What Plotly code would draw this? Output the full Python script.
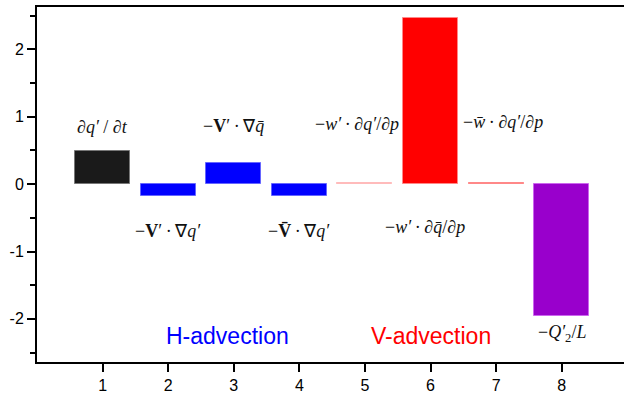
import plotly.graph_objects as go

# ---- data ----
categories = [1, 2, 3, 4, 5, 6, 7, 8]
values = [0.49, -0.18, 0.32, -0.17, 0.015, 2.47, 0.015, -1.96]
y_ticks = [-2, -1, 0, 1, 2]
y_tick_text = ["-2", "-1", "0", "1", "2"]
bar_colors = ["#1a1a1a", "#0000ff", "#0000ff", "#0000ff", "#ff9999", "#ff0000", "#ff0000", "#9900cc"]
edge_colors = ["#777777", "#6666ff", "#6666ff", "#6666ff", "#ffbbbb", "#ff8888", "#ff8888", "#cc66ee"]
ts = "\u2009"
term_labels = [
    "<i>∂q′</i> / <i>∂t</i>",
    f"−<b>V</b>′{ts}·{ts}∇<i>q′</i>",
    f"−<b>V</b>′{ts}·{ts}∇<i>q̄</i>",
    f"−<b>V̄</b>{ts}·{ts}∇<i>q′</i>",
    f"−<i>w′</i>{ts}·{ts}<i>∂q′</i>/<i>∂p</i>",
    f"−<i>w′</i>{ts}·{ts}<i>∂q̄</i>/<i>∂p</i>",
    f"−<i>w̄</i>{ts}·{ts}<i>∂q′</i>/<i>∂p</i>",
    "−<i>Q′</i><sub>2</sub>/<i>L</i>",
]
group_labels = ["H-advection", "V-advection"]
group_colors = ["#0000ff", "#ff0000"]

# label placement (layout only)
label_x = [1, 2, 3, 4, 4.88, 5.92, 7.1, 8]
label_y = [0.85, -0.69, 0.87, -0.69, 0.9, -0.63, 0.92, -2.21]
group_x = [2.9, 6.0]
group_y = -2.26

fig = go.Figure()
fig.add_trace(go.Bar(
    x=categories, y=values, width=0.84,
    marker=dict(color=bar_colors, line=dict(color=edge_colors, width=1)),
    showlegend=False, hoverinfo="skip",
))

for lx, ly, t in zip(label_x, label_y, term_labels):
    fig.add_annotation(x=lx, y=ly, text=t, showarrow=False,
                       font=dict(family="Liberation Serif", size=18, color="#111111"))
for gx, t, c in zip(group_x, group_labels, group_colors):
    fig.add_annotation(x=gx, y=group_y, text=t, showarrow=False,
                       font=dict(family="Liberation Sans", size=23, color=c))

fig.update_layout(
    width=624, height=393,
    margin=dict(l=37, r=0, t=7, b=31),
    plot_bgcolor="white", paper_bgcolor="white",
    font=dict(family="Liberation Sans", size=16, color="black"),
    bargap=0,
)
fig.update_xaxes(
    range=[0, 8.95], tickvals=categories, ticktext=[str(c) for c in categories],
    showline=True, linecolor="black", linewidth=2, mirror=True,
    ticks="outside", ticklen=8, tickwidth=2, tickcolor="black",
    showgrid=False, zeroline=False,
)
fig.update_yaxes(
    range=[-2.64, 2.63], tickvals=y_ticks, ticktext=y_tick_text,
    showline=True, linecolor="black", linewidth=2,
    ticks="outside", ticklen=8, tickwidth=2, tickcolor="black",
    minor=dict(dtick=0.5, ticks="outside", ticklen=5, tickwidth=2, tickcolor="black"),
    showgrid=False, zeroline=False,
)

fig.write_html("out.html")
